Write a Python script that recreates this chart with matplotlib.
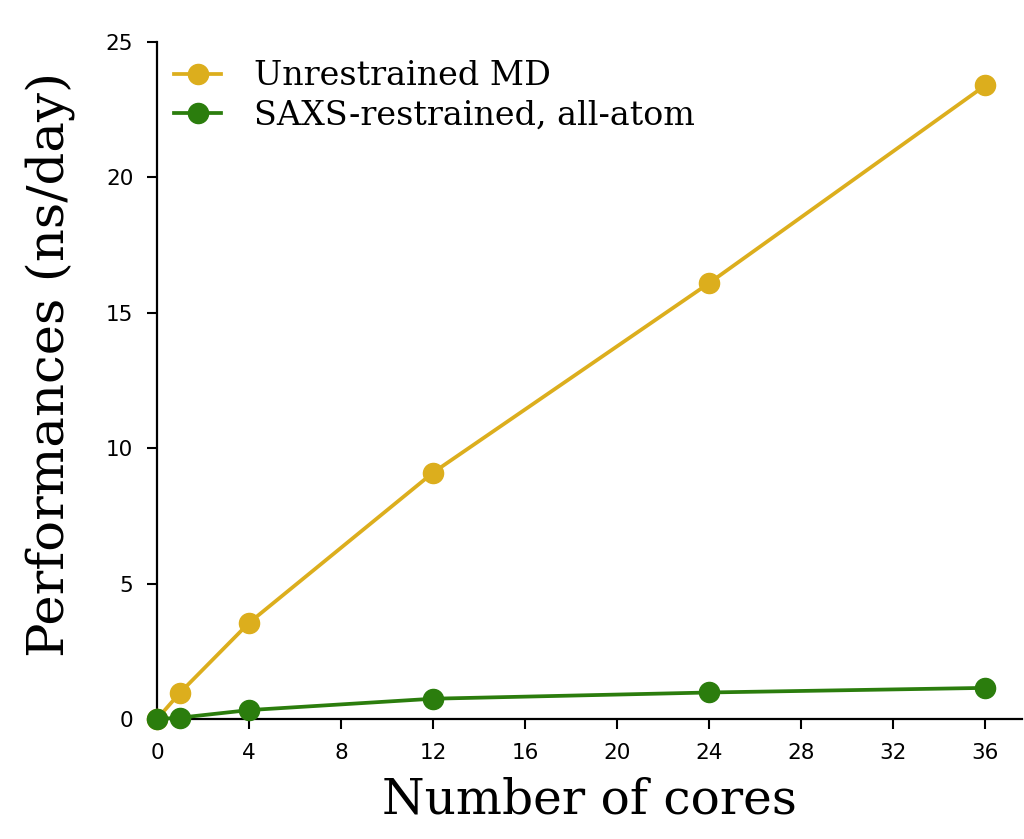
import matplotlib.pyplot as plt

cores_md = [0, 1, 4, 12, 24, 36]
perf_md = [0.0, 0.97, 3.55, 9.1, 16.1, 23.4]

cores_saxs = [0, 1, 4, 12, 24, 36]
perf_saxs = [0.0, 0.05, 0.33, 0.75, 0.98, 1.15]

xticks = [0, 4, 8, 12, 16, 20, 24, 28, 32, 36]
yticks = [0, 5, 10, 15, 20, 25]

serif = 'DejaVu Serif'

fig = plt.figure(figsize=(10.24, 8.39), dpi=100)
ax = fig.add_axes([0.1533, 0.143, 0.845, 0.807])

ax.plot(cores_md, perf_md, '-o', color='#DCAE1D', lw=2.7, ms=14.5,
        label='Unrestrained MD', clip_on=False, zorder=3)
ax.plot(cores_saxs, perf_saxs, '-o', color='#2B7D0D', lw=2.7, ms=14.5,
        label='SAXS-restrained, all-atom', clip_on=False, zorder=3)

ax.set_xlim(0, 37.6)
ax.set_ylim(0, 25)
ax.set_xticks(xticks)
ax.set_yticks(yticks)
ax.tick_params(labelsize=15.5, length=7, width=1.5, pad=10)
for s in ['top', 'right']:
    ax.spines[s].set_visible(False)
for s in ['left', 'bottom']:
    ax.spines[s].set_linewidth(1.6)

ax.set_xlabel('Number of cores', fontsize=35, family=serif, labelpad=10)
ax.set_ylabel('Performances (ns/day)', fontsize=37, family=serif)
ax.yaxis.set_label_coords(-0.095, 0.523)

leg = ax.legend(loc='upper left', frameon=False, prop={'family': serif, 'size': 24},
                handlelength=1.4, handletextpad=1.0, borderaxespad=0.0,
                labelspacing=0.22, borderpad=0.0,
                bbox_to_anchor=(0.02, 0.973))

fig.savefig('out.png', dpi=100)
